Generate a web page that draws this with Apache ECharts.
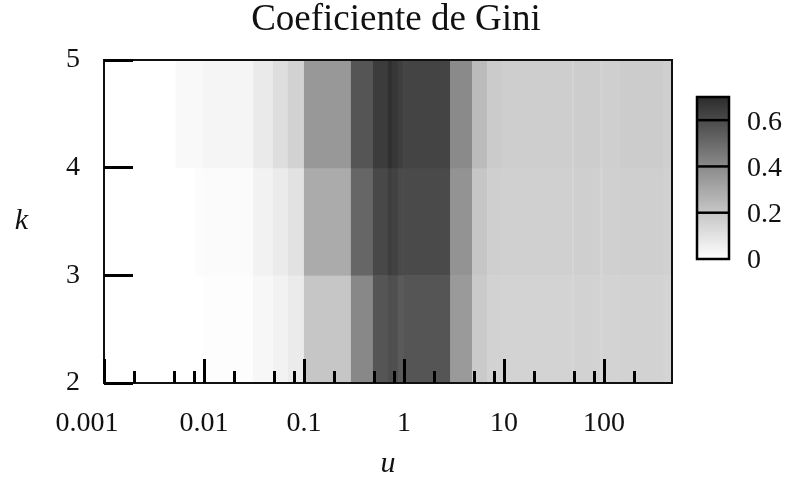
<!DOCTYPE html>
<html>
<head>
<meta charset="utf-8">
<script src="https://cdn.jsdelivr.net/npm/echarts@6/dist/echarts.min.js"></script>
<style>
  html, body { margin: 0; padding: 0; background: #fff; }
  #main { width: 792px; height: 480px; }
</style>
</head>
<body>
<div id="main"></div>
<script>
// bordes de las columnas en u (escala log)
var uEdges = [0.001, 0.0052, 0.0081, 0.0098, 0.031, 0.049, 0.069, 0.1, 0.295, 0.49, 0.69, 0.76, 0.87,
  0.98, 2.9, 4.8, 6.8, 9.5, 48, 50, 91, 98, 145, 390, 480];
// filas k (cada fila cubre de k a k+1)
var kRows = [2, 3, 4];
// coeficiente de Gini por fila
var giniK2 = [0, 0, 0, 0.007, 0.028, 0.045, 0.069, 0.2, 0.406, 0.566, 0.588, 0.581, 0.55, 0.566,
  0.347, 0.186, 0.157, 0.154, 0.139, 0.157, 0.143, 0.154, 0.157, 0.15];
var giniK3 = [0, 0, 0.01, 0.014, 0.045, 0.069, 0.1, 0.29, 0.513, 0.606, 0.64, 0.627, 0.6, 0.6,
  0.369, 0.2, 0.168, 0.164, 0.143, 0.168, 0.146, 0.164, 0.168, 0.161];
var giniK4 = [0, 0.021, 0.021, 0.034, 0.072, 0.114, 0.157, 0.353, 0.566, 0.647, 0.687, 0.663, 0.64, 0.62,
  0.4, 0.237, 0.182, 0.171, 0.15, 0.175, 0.154, 0.168, 0.179, 0.168];
var majorTicks = [0.001, 0.01, 0.1, 1, 10, 100];
var minorTicks = [0.002, 0.005, 0.008, 0.02, 0.05, 0.08, 0.2, 0.5, 0.8, 2, 5, 8, 20, 50, 80, 200];
var barTicks = [0, 0.2, 0.4, 0.6];

var cells = [];
[giniK2, giniK3, giniK4].forEach(function (row, r) {
  row.forEach(function (v, i) {
    cells.push([uEdges[i], uEdges[i + 1], kRows[r], v]);
  });
});

var font = 'Liberation Serif';
var vmMax = 0.7;
// barra de color
var barX = 697, barY = 97, barW = 32, barH = 162;
var graphics = [{
  type: 'rect', z: 100,
  shape: { x: barX, y: barY, width: barW, height: barH },
  style: { fill: null, stroke: '#000', lineWidth: 2.5 }
}];
barTicks.forEach(function (t) {
  var y = barY + barH - t / vmMax * barH;
  if (t > 0) {
    graphics.push({
      type: 'line', z: 100,
      shape: { x1: barX, y1: y, x2: barX + barW, y2: y },
      style: { stroke: '#000', lineWidth: 2.5 }
    });
  }
  graphics.push({
    type: 'text', z: 100, x: barX + 50, y: y + 2,
    style: { text: String(t), font: '28px "' + font + '"', fill: '#111', verticalAlign: 'middle', align: 'left' }
  });
});

var chart = echarts.init(document.getElementById('main'));
chart.setOption({
  backgroundColor: '#fff',
  animation: false,
  title: {
    text: 'Coeficiente de Gini',
    left: 'center', top: -3,
    textStyle: { fontFamily: font, fontSize: 37, fontWeight: 'normal', color: '#111' }
  },
  grid: {
    left: 104, right: 120, top: 60, bottom: 97,
    outerBoundsMode: 'none', containLabel: false,
    show: true, z: 10, borderColor: '#111', borderWidth: 2, backgroundColor: 'transparent'
  },
  visualMap: {
    type: 'continuous', min: 0, max: vmMax, dimension: 3,
    left: barX, top: barY, itemWidth: barW, itemHeight: barH,
    padding: 0, calculable: false, hoverLink: false, text: null,
    inRange: { color: ['#ffffff', '#e2e2e2', '#c6c6c6', '#a8a8a8', '#8a8a8a', '#6a6a6a', '#4a4a4a', '#2c2c2c'] }
  },
  xAxis: [{
    type: 'log', logBase: 10, min: 0.001, max: 480, z: 10,
    name: 'u', nameLocation: 'middle', nameGap: 66,
    nameTextStyle: { fontFamily: font, fontSize: 30, fontStyle: 'italic', color: '#111' },
    axisLine: { show: false },
    axisTick: { inside: true, length: 24, customValues: majorTicks, lineStyle: { color: '#000', width: 3 } },
    axisLabel: {
      customValues: majorTicks, margin: 27,
      fontFamily: font, fontSize: 28, color: '#111',
      formatter: function (v) {
        return v === majorTicks[0] ? '{first|' + v + '}' : String(v);
      },
      rich: { first: { fontFamily: font, fontSize: 28, color: '#111', padding: [0, 34, 0, 0] } }
    },
    splitLine: { show: false }
  }, {
    type: 'log', logBase: 10, min: 0.001, max: 480, z: 10, position: 'bottom',
    axisLine: { show: false },
    axisTick: { inside: true, length: 12, customValues: minorTicks, lineStyle: { color: '#000', width: 3 } },
    axisLabel: { show: false },
    splitLine: { show: false }
  }],
  yAxis: {
    type: 'value', min: 2, max: 5, interval: 1, z: 10,
    name: 'k', nameLocation: 'middle', nameGap: 76, nameRotate: 0,
    nameTextStyle: { fontFamily: font, fontSize: 30, fontStyle: 'italic', color: '#111' },
    axisLine: { show: false },
    axisTick: { inside: true, length: 29, lineStyle: { color: '#000', width: 3 } },
    axisLabel: { margin: 24, fontFamily: font, fontSize: 28, color: '#111' },
    splitLine: { show: false }
  },
  graphic: graphics,
  series: [{
    type: 'custom',
    z: 1,
    data: cells,
    encode: { x: [0, 1], y: 2 },
    renderItem: function (params, api) {
      var p0 = api.coord([api.value(0), api.value(2) + 1]);
      var p1 = api.coord([api.value(1), api.value(2)]);
      return {
        type: 'rect',
        shape: { x: p0[0], y: p0[1], width: p1[0] - p0[0] + 0.5, height: p1[1] - p0[1] + 0.5 },
        style: { fill: api.visual('color') }
      };
    }
  }]
});
</script>
</body>
</html>
